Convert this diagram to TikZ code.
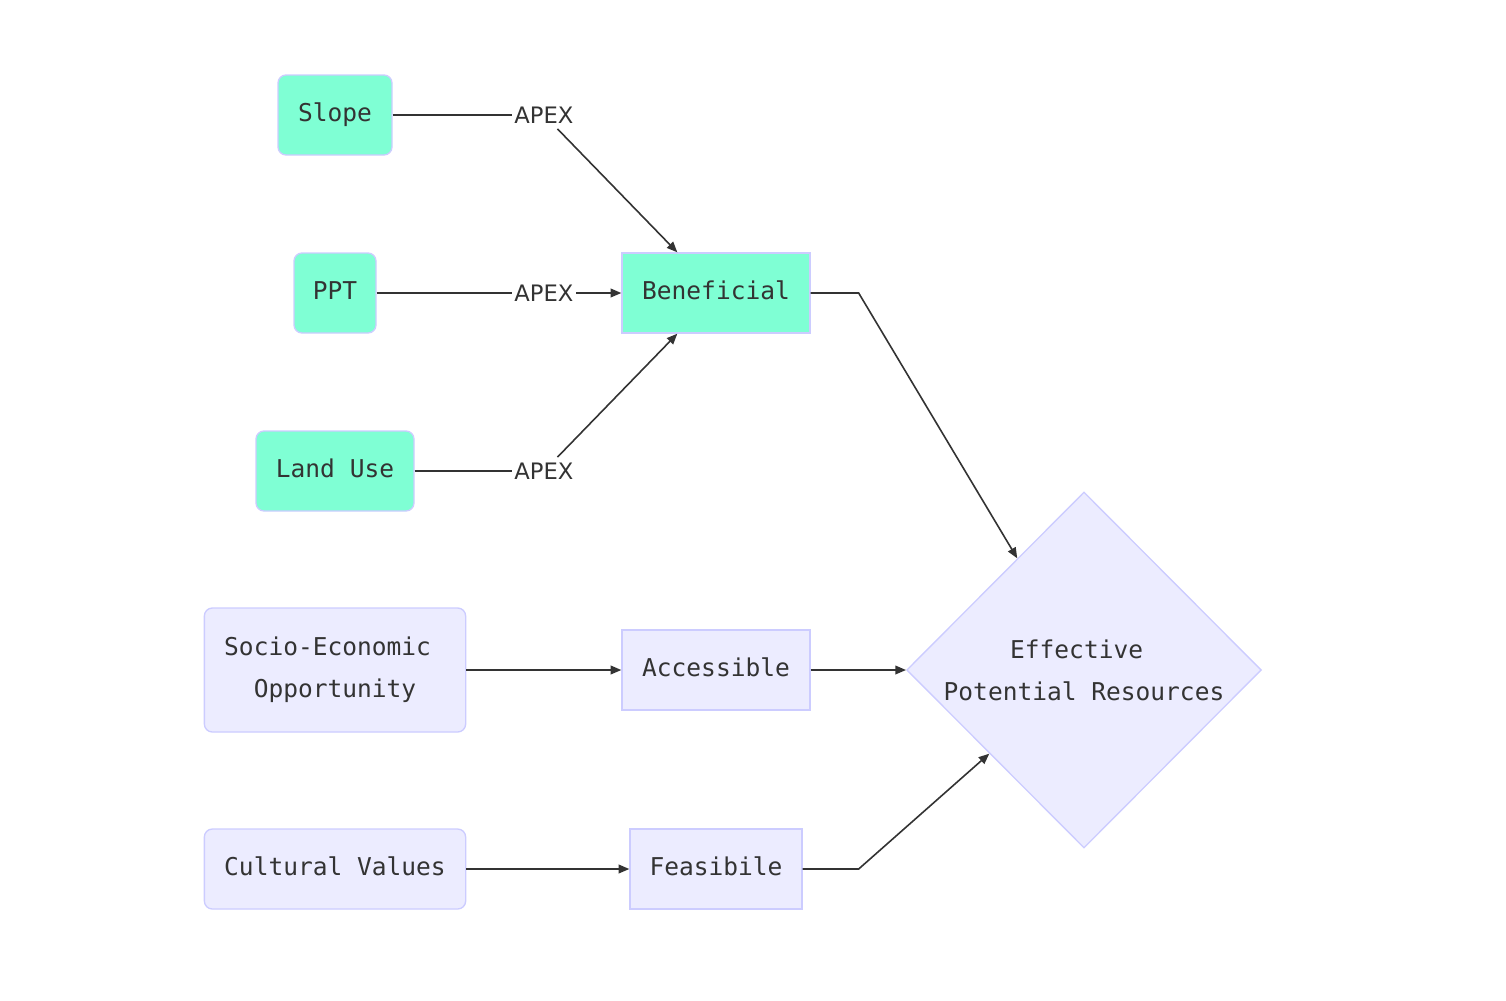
\documentclass[tikz,border=0pt]{standalone}
\usepackage{fontspec}
\usepackage{tikz}
\usetikzlibrary{shapes.geometric,arrows.meta}
\newfontfamily\boxfont{DejaVu Sans Mono}
\newfontfamily\apexfont{DejaVu Sans}
\definecolor{aqua}{HTML}{7FFFD4}
\definecolor{lav}{HTML}{ECECFF}
\definecolor{lavline}{HTML}{CCCCFF}
\definecolor{ink}{HTML}{333333}

\begin{document}
\begin{tikzpicture}[x=0.75pt,y=-0.75pt,
        box/.style={draw=lavline,line width=1pt,fill=lav,text=ink,
            font=\boxfont\fontsize{18.4}{31.5}\selectfont,
            minimum height=60pt,inner sep=0pt,align=center},
        oneline/.style={box,text height=13.5pt,text depth=4.5pt},
        soft/.style={rounded corners=6pt},
        input/.style={oneline,soft,fill=aqua},
        apex/.style={text=ink,font=\apexfont\fontsize{17}{20}\selectfont,
            inner xsep=2pt,inner ysep=4pt},
        link/.style={draw=ink,line width=1.2pt},
        flow/.style={link,-{Triangle[length=8pt,width=6.5pt]}}]
        \useasboundingbox (0,0) rectangle (1506,1000);

        \node[input,minimum width=85.5pt] (slope) at (335,115) {Slope};
        \node[input,minimum width=61.5pt] (ppt) at (335,293) {PPT};
        \node[input,minimum width=118.5pt] (landuse) at (335,471) {Land Use};
        \node[box,soft,minimum width=196pt,minimum height=93pt] (socio) at (335,670) {Socio-Economic\phantom{x}\\Opportunity};
        \node[oneline,soft,minimum width=196pt] (cultural) at (335,869) {Cultural Values};

        \node[apex] (apexslope) at (544,115) {APEX};
        \node[apex] (apexppt) at (544,293) {APEX};
        \node[apex] (apexland) at (544,471) {APEX};

        \node[oneline,fill=aqua,minimum width=141pt] (beneficial) at (716,293) {Beneficial};
        \node[oneline,minimum width=141pt] (accessible) at (716,670) {Accessible};
        \node[oneline,minimum width=129pt] (feasibile) at (716,869) {Feasibile};

        \node[box,diamond,aspect=1,minimum width=266pt,minimum height=267pt] (epr) at (1084,670) {Effective\phantom{x}\\Potential Resources};

        \draw[link] (slope) -- (apexslope);
        \draw[flow] (apexslope) -- ([xshift=-29pt]beneficial.north);
        \draw[link] (ppt) -- (apexppt);
        \draw[flow] (apexppt) -- (beneficial);
        \draw[link] (landuse) -- (apexland);
        \draw[flow] (apexland) -- ([xshift=-29pt]beneficial.south);

        \draw[flow] (socio) -- (accessible);
        \draw[flow] (cultural) -- (feasibile);

        \draw[flow] (beneficial.east) -- ++(36pt,0) -- (epr);
        \draw[flow] (accessible) -- (epr);
        \draw[flow] (feasibile.east) -- ++(42pt,0) -- (epr);
\end{tikzpicture}
\end{document}
